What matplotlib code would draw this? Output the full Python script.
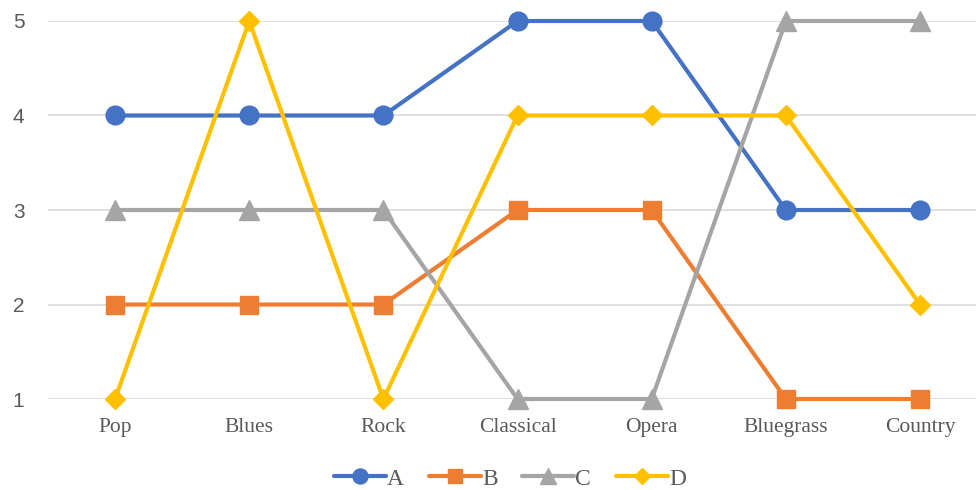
import numpy as np
import matplotlib.pyplot as plt
from matplotlib.lines import Line2D

genres = ["Pop", "Blues", "Rock", "Classical", "Opera", "Bluegrass", "Country"]
series_a = [4, 4, 4, 5, 5, 3, 3]
series_b = [2, 2, 2, 3, 3, 1, 1]
series_c = [3, 3, 3, 1, 1, 5, 5]
series_d = [1, 5, 1, 4, 4, 4, 2]

names = ["A", "B", "C", "D"]
colors = ["#4472C4", "#ED7D31", "#A5A5A5", "#FFC000"]
markers = ["o", "s", "^", "D"]
msizes = [13.5, 13, 14, 10.5]

fig = plt.figure(figsize=(9.76, 4.90), dpi=100)
ax = fig.add_axes([48 / 976, 91 / 490, 1 - 48 / 976, 378 / 490])

x = np.arange(len(genres))
handles = []
for i, vals in enumerate([series_a, series_b, series_c, series_d]):
    ax.plot(x, vals, color=colors[i], linewidth=3.0, marker=markers[i],
            markersize=msizes[i], solid_capstyle="round", zorder=3 + i,
            clip_on=False)
    handles.append(Line2D([0], [0], color=colors[i], linewidth=3.0,
                          marker=markers[i], markersize=msizes[i] * 0.8,
                          solid_capstyle="round"))

ax.set_xlim(-0.5, (976 - 115) / 134.17)
ax.set_ylim(1, 5)
ax.set_yticks([1, 2, 3, 4, 5])
ax.set_xticks(x)
ax.set_xticklabels(genres, family="Liberation Serif", fontsize=15.5, color="#595959")
for lbl in ax.get_yticklabels():
    lbl.set_family("Liberation Sans")
    lbl.set_fontsize(15)
    lbl.set_color("#595959")
ax.tick_params(axis="both", length=0)
ax.tick_params(axis="x", pad=14)
ax.tick_params(axis="y", pad=17)
ax.grid(axis="y", color="#D9D9D9", linewidth=1.2, zorder=0)
for s in ax.spines.values():
    s.set_visible(False)

fig.legend(handles, names, loc="center", bbox_to_anchor=(510 / 976, 1 - 479 / 490),
           ncol=4, frameon=False, handlelength=2.2, handletextpad=0.05,
           columnspacing=1.05, prop={"family": "Liberation Serif", "size": 17},
           labelcolor="#595959")

fig.savefig("out.png", dpi=100)
